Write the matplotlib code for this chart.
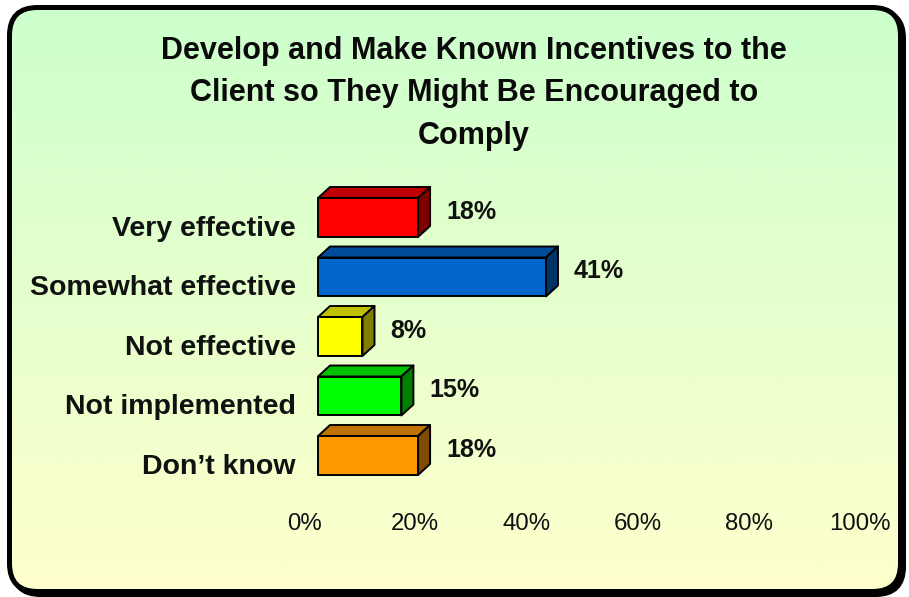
import numpy as np
import matplotlib
matplotlib.use('Agg')
import matplotlib.pyplot as plt
from matplotlib.patches import Polygon, FancyBboxPatch
from matplotlib.colors import LinearSegmentedColormap

plt.rcParams['font.family'] = ['Liberation Sans', 'DejaVu Sans']

title = 'Develop and Make Known Incentives to the\nClient so They Might Be Encouraged to\nComply'
categories = ['Very effective', 'Somewhat effective', 'Not effective',
              'Not implemented', 'Don\u2019t know']
values = [18, 41, 8, 15, 18]
front_colors = ['#ff0000', '#0066cc', '#ffff00', '#00ff00', '#ff9900']
top_colors = ['#c00000', '#004c99', '#c0c000', '#00c000', '#c07300']
side_colors = ['#800000', '#003366', '#808000', '#008000', '#804c00']
xticks = [0, 20, 40, 60, 80, 100]

W, H = 909, 597
fig = plt.figure(figsize=(W / 100, H / 100), dpi=100)
fig.patch.set_facecolor('white')

# background panel with gradient and rounded black frame
bg = fig.add_axes([0, 0, 1, 1])
bg.set_xlim(0, W)
bg.set_ylim(H, 0)
bg.axis('off')
shadow = FancyBboxPatch((12.5, 10.5), 891, 584, boxstyle='round,pad=0,rounding_size=28',
                        facecolor='black', edgecolor='black', lw=3.6)
bg.add_patch(shadow)
frame = FancyBboxPatch((9.5, 7.5), 891, 584, boxstyle='round,pad=0,rounding_size=28',
                       facecolor='none', edgecolor='black', lw=3.6, zorder=3)
grad_cmap = LinearSegmentedColormap.from_list('bg', ['#ccffcc', '#ffffcc'])
grad = np.linspace(0, 1, 256).reshape(-1, 1)
im = bg.imshow(grad, cmap=grad_cmap, extent=[9.5, 900.5, 591.5, 7.5], aspect='auto', zorder=2)
clip = FancyBboxPatch((9.5, 7.5), 891, 584, boxstyle='round,pad=0,rounding_size=28',
                      facecolor='none', edgecolor='none', transform=bg.transData)
im.set_clip_path(clip)
bg.add_patch(frame)

fig.text(474 / W, 1 - 93.5 / H, title, ha='center', va='center', fontsize=22,
         fontweight='bold', linespacing=1.55, color='#0a0a0a')

# chart axes: x=0 at px 318, 100% at px 874; rows 59.5 px apart starting at 217.5
y_lo, y_hi = -0.9, 4.7
top_px = 217.5 + y_lo * 59.5
bot_px = 217.5 + y_hi * 59.5
ax = fig.add_axes([318 / W, 1 - bot_px / H, 556 / W, (bot_px - top_px) / H])
ax.set_xlim(0, 100)
ax.set_ylim(y_hi, y_lo)
ax.axis('off')

dx, dy = 2.16, 0.185   # depth of the 3D bars
bh = 0.655             # bar height in rows
for i, (v, fc, tc, sc) in enumerate(zip(values, front_colors, top_colors, side_colors)):
    y0, y1 = i - bh / 2, i + bh / 2
    front = Polygon([(0, y0), (v, y0), (v, y1), (0, y1)], closed=True,
                    facecolor=fc, edgecolor='black', lw=1.4, joinstyle='round')
    top = Polygon([(0, y0), (v, y0), (v + dx, y0 - dy), (dx, y0 - dy)], closed=True,
                  facecolor=tc, edgecolor='black', lw=1.4, joinstyle='round')
    side = Polygon([(v, y0), (v + dx, y0 - dy), (v + dx, y1 - dy), (v, y1)], closed=True,
                   facecolor=sc, edgecolor='black', lw=1.4, joinstyle='round')
    for p in (top, side, front):
        p.set_clip_on(False)
        ax.add_patch(p)
    ax.text(v + 5.0, i - 0.1, f'{v}%', ha='left', va='center', fontsize=18,
            fontweight='bold', color='#111111')
    ax.text(-4.0, i + 0.19, categories[i], ha='right', va='center', fontsize=20.5,
            fontweight='bold', color='#111111')

for t in xticks:
    ax.text(t - 2.5, y_hi + 0.45, f'{t}%', ha='center', va='center', fontsize=17.3,
            color='#111111')

fig.savefig('out.png', dpi=100, facecolor=fig.get_facecolor())
